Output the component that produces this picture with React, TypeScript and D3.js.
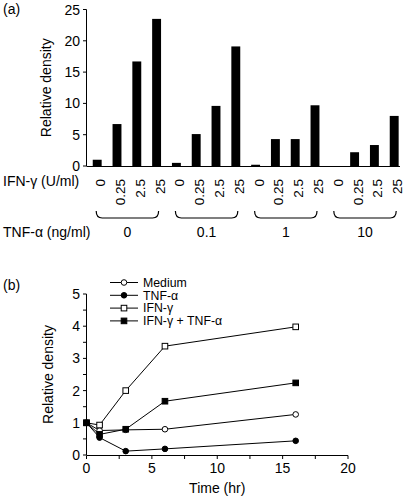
import React from "react";
import * as d3 from "d3";

const ifnDoses = ["0", "0.25", "2.5", "25"];
const tnfDoses = ["0", "0.1", "1", "10"];
const barValues = [1.0, 6.7, 16.7, 23.5, 0.5, 5.1, 9.6, 19.1, 0.2, 4.3, 4.3, 9.7, 0, 2.2, 3.35, 8.0];
const barTicks = [0, 5, 10, 15, 20, 25];

const times = [0, 1, 3, 6, 16];
const seriesNames = ["Medium", "TNF-α", "IFN-γ", "IFN-γ + TNF-α"];
const medium = [1.0, 0.76, 0.78, 0.8, 1.26];
const tnf = [1.0, 0.54, 0.12, 0.19, 0.44];
const ifn = [1.0, 0.93, 2.0, 3.38, 3.98];
const ifnTnf = [1.0, 0.64, 0.8, 1.67, 2.24];
const markers = ["openCircle", "filledCircle", "openSquare", "filledSquare"];
const lineXTicks = [0, 5, 10, 15, 20];
const lineYTicks = [0, 1, 2, 3, 4, 5];

const FONT = "'Liberation Sans', Arial, Helvetica, sans-serif";

function Marker({ type, x, y }: { type: string; x: number; y: number }) {
  if (type === "openCircle" || type === "filledCircle") {
    return <circle cx={x} cy={y} r={2.8} fill={type === "filledCircle" ? "#000" : "#fff"} stroke="#000" strokeWidth={1} />;
  }
  const s = 5.6;
  return <rect x={x - s / 2} y={y - s / 2} width={s} height={s} fill={type === "filledSquare" ? "#000" : "#fff"} stroke="#000" strokeWidth={1} />;
}

export default function App() {
  // Panel (a)
  const ya = d3.scaleLinear().domain([0, 25]).range([166, 9.5]);
  const idx = d3.range(barValues.length);
  const xa = d3.scaleBand<number>().domain(idx).range([87.3, 404.1]).paddingInner(0.55).paddingOuter(0.275);
  const bw = xa.bandwidth();
  const center = (i: number) => (xa(i) as number) + bw / 2;

  // Panel (b)
  const xb = d3.scaleLinear().domain([0, 20]).range([86.5, 348]);
  const yb = d3.scaleLinear().domain([0, 5]).range([455, 294]);
  const series = [medium, tnf, ifn, ifnTnf];
  const line = d3.line<number>().x((_, i) => xb(times[i])).y((v) => yb(v));
  const xMinor = d3.range(0, 20.01, 2.5);
  const yMinor = d3.range(0, 5.01, 0.5);

  return (
    <svg width={406} height={498} style={{ position: "absolute", left: 0, top: 0, background: "#fff" }} fontFamily={FONT}>
      {/* ---------- Panel (a) ---------- */}
      <text x={3} y={14} fontSize={14}>(a)</text>
      <text transform={`translate(51,${(ya(0) + ya(25)) / 2}) rotate(-90)`} textAnchor="middle" fontSize={14}>Relative density</text>
      <line x1={86.5} x2={86.5} y1={ya(25)} y2={ya(0)} stroke="#000" />
      {barTicks.map((t) => (
        <g key={t}>
          <line x1={83} x2={86.5} y1={ya(t)} y2={ya(t)} stroke="#000" />
          <text x={80} y={ya(t) + 5} textAnchor="end" fontSize={14}>{t}</text>
        </g>
      ))}
      {barValues.map((v, i) => (
        <rect key={i} x={xa(i)} y={ya(v)} width={bw} height={ya(0) - ya(v)} fill="#000" />
      ))}
      <line x1={86.5} x2={400} y1={166.5} y2={166.5} stroke="#000" />

      <text x={3} y={186} fontSize={14}>IFN-γ (U/ml)</text>
      {idx.map((i) => {
        const cx = center(i) + 3;
        return (
          <text key={i} transform={`translate(${cx + 5},179) rotate(-90)`} textAnchor="end" fontSize={13.5}>
            {ifnDoses[i % ifnDoses.length]}
          </text>
        );
      })}
      <text x={3} y={237} fontSize={14}>TNF-α (ng/ml)</text>
      {tnfDoses.map((d, g) => {
        const x0 = center(g * 4) - 1;
        const x1 = center(g * 4 + 3) + 2;
        const yTop = 211;
        const yBot = 218;
        const r = 4;
        const path = `M${x0},${yTop} Q${x0},${yBot} ${x0 + r + 2},${yBot} L${x1 - r - 2},${yBot} Q${x1},${yBot} ${x1},${yTop}`;
        return (
          <g key={d}>
            <path d={path} fill="none" stroke="#000" strokeWidth={1.2} />
            <text x={(x0 + x1) / 2} y={237} textAnchor="middle" fontSize={14}>{d}</text>
          </g>
        );
      })}

      {/* ---------- Panel (b) ---------- */}
      <text x={3} y={290} fontSize={14}>(b)</text>
      <text transform={`translate(53,${(yb(0) + yb(5)) / 2}) rotate(-90)`} textAnchor="middle" fontSize={14}>Relative density</text>
      <line x1={86.5} x2={86.5} y1={yb(5)} y2={yb(0)} stroke="#000" />
      {yMinor.map((t) => (
        <line key={"ym" + t} x1={83} x2={86.5} y1={yb(t)} y2={yb(t)} stroke="#000" />
      ))}
      {lineYTicks.map((t) => (
        <text key={"yt" + t} x={80} y={yb(t) + 5} textAnchor="end" fontSize={14}>{t}</text>
      ))}
      <line x1={86.5} x2={348} y1={455.5} y2={455.5} stroke="#000" />
      {xMinor.map((t) => (
        <line key={"xm" + t} x1={xb(t)} x2={xb(t)} y1={455.5} y2={459} stroke="#000" />
      ))}
      {lineXTicks.map((t) => (
        <text key={"xt" + t} x={xb(t)} y={473} textAnchor="middle" fontSize={14}>{t}</text>
      ))}
      <text x={(xb(0) + xb(20)) / 2} y={493} textAnchor="middle" fontSize={14}>Time (hr)</text>

      {series.map((s, k) => (
        <path key={"l" + k} d={line(s) as string} fill="none" stroke="#000" strokeWidth={1} />
      ))}
      {series.map((s, k) => (
        <g key={"m" + k}>
          {s.map((v, i) => (
            <Marker key={i} type={markers[k]} x={xb(times[i])} y={yb(v)} />
          ))}
        </g>
      ))}

      {seriesNames.map((n, k) => {
        const y = 282.5 + k * 12.8;
        return (
          <g key={n}>
            <line x1={110} x2={138} y1={y} y2={y} stroke="#000" />
            <Marker type={markers[k]} x={124} y={y} />
            <text x={143} y={y + 4.3} fontSize={12.3}>{n}</text>
          </g>
        );
      })}
    </svg>
  );
}
